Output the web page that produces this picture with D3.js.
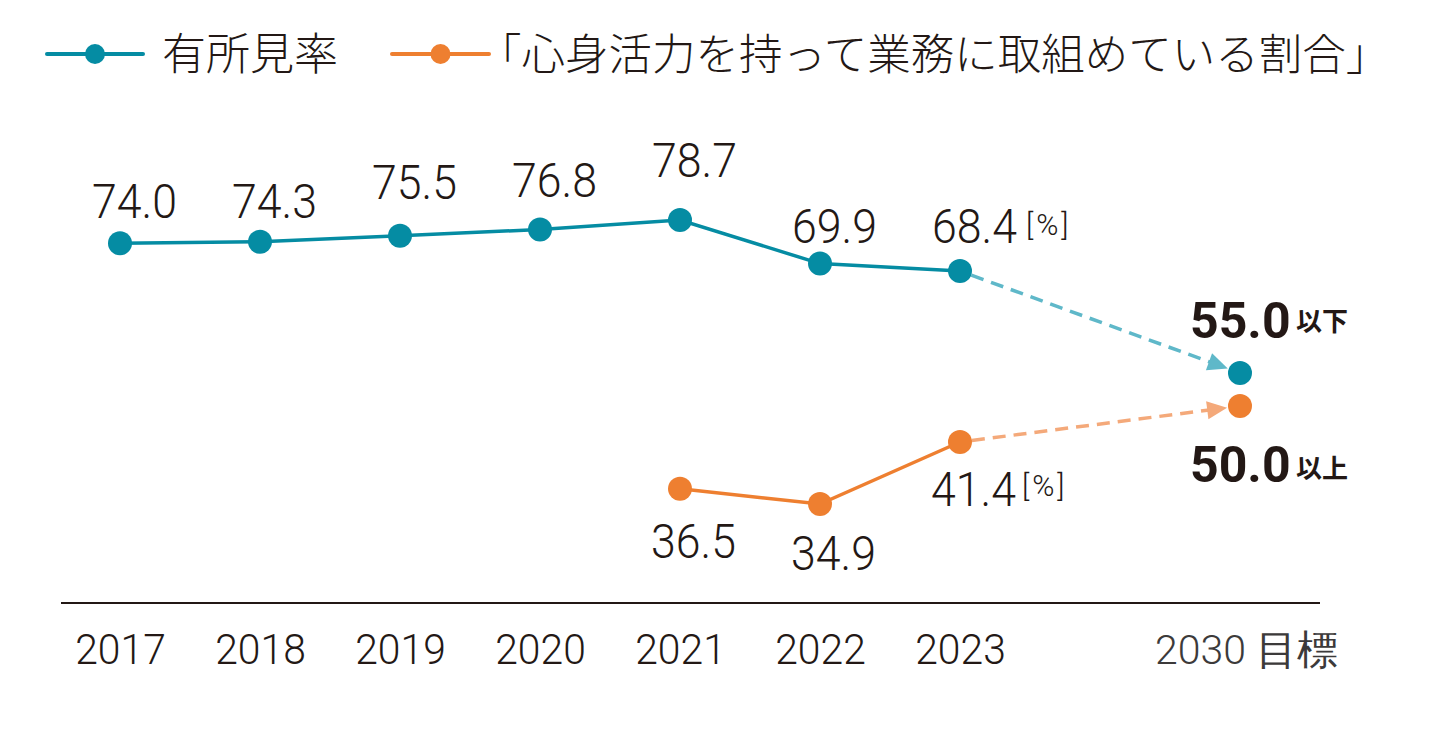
<!DOCTYPE html>
<html><head><meta charset="utf-8">
<script src="https://cdn.jsdelivr.net/npm/d3@7"></script>
<style>body{margin:0;background:#fff;} svg{display:block}</style>
</head><body><svg id="chart" width="1430" height="735"></svg>
<script>
// ---- data ----
const years = [2017, 2018, 2019, 2020, 2021, 2022, 2023];
const targetYear = 2030;
const yearLabels = ["2017", "2018", "2019", "2020", "2021", "2022", "2023", "2030 目標"];
const seriesNames = ["有所見率", "「心身活力を持って業務に取組めている割合」"];
const findingRate = [74.0, 74.3, 75.5, 76.8, 78.7, 69.9, 68.4];
const vitalityYears = [2021, 2022, 2023];
const vitalityRate = [36.5, 34.9, 41.4];
const findingTarget = 55.0;
const vitalityTarget = 50.0;
const targetSuffix = ["以下", "以上"];
const unitLabel = "[%]";

// ---- layout (label nudges, not data) ----
const blueLabelDy = [-25, -24, -37, -32, -43, -21, -28];
const orangeLabelDy = [69, 66, 64];

const TEAL = "#058ca3", TEAL_L = "#5fb8c9", ORANGE = "#ee7f30", ORANGE_L = "#f4a97a", INK = "#231815";
const NUM = "Roboto, 'Noto Sans', sans-serif";
const CJK = "'Noto Sans CJK JP', 'Noto Sans', sans-serif";

const svg = d3.select("#chart");

// x: slots of 140px, 2030 two slots after 2023
const x = d3.scaleLinear().domain([2017, 2023, 2030]).range([120, 960, 1240]);
// y: illustrative (not to scale) piecewise scales per series
const yBlue = d3.scaleLinear().domain([55, 68.4, 78.7]).range([373, 271, 220]);
const yOrange = d3.scaleLinear().domain([34.9, 41.4, 50]).range([504, 442, 406]);

function txt(s, px, py, size, o = {}) {
  return svg.append("text")
    .attr("transform", `translate(${px},${py}) scale(${o.sx || 1},1)`)
    .attr("font-family", o.font || NUM)
    .attr("font-size", size)
    .attr("font-weight", o.weight || 300)
    .attr("fill", o.fill || INK)
    .attr("text-anchor", o.anchor || "start")
    .text(s);
}

// ---- legend ----
const legendItems = [{c: TEAL, x0: 47, x1: 143, tx: 162, fs: 44}, {c: ORANGE, x0: 392, x1: 489, tx: 478, fs: 43.5}];
legendItems.forEach((l, i) => {
  svg.append("line").attr("x1", l.x0).attr("x2", l.x1).attr("y1", 54).attr("y2", 54)
    .attr("stroke", l.c).attr("stroke-width", 4).attr("stroke-linecap", "round");
  svg.append("circle").attr("cx", (l.x0 + l.x1) / 2).attr("cy", 54).attr("r", 10).attr("fill", l.c);
  txt(seriesNames[i], l.tx, 70, l.fs, {font: CJK, weight: 300});
});

// ---- axis ----
svg.append("line").attr("x1", 61).attr("x2", 1320).attr("y1", 603).attr("y2", 603)
  .attr("stroke", INK).attr("stroke-width", 2);
const axis = d3.axisBottom(x).tickValues([...years, targetYear]).tickSize(0)
  .tickFormat((d, i) => yearLabels[i]);
const ag = svg.append("g").attr("transform", "translate(0,603)").call(axis);
ag.select(".domain").remove();
ag.selectAll("text")
  .attr("y", 61).attr("dy", null)
  .attr("font-family", NUM).attr("font-weight", 300)
  .attr("font-size", (d) => d === targetYear ? 41 : 43)
  .attr("fill", (d) => d === targetYear ? "#3c3a3a" : INK)
  .attr("x", (d) => d === targetYear ? 6 : 0)
  .attr("transform", (d) => d === targetYear ? "scale(1,1)" : "scale(0.95,1)");

// ---- dashed projections with arrowheads ----
function projection(x0, y0, x1, y1, color) {
  const dx = x1 - x0, dy = y1 - y0, L = Math.hypot(dx, dy);
  const ux = dx / L, uy = dy / L;
  const r = 13, aLen = 20, aHalf = 9;
  const tipX = x1 - ux * r, tipY = y1 - uy * r;
  const bX = tipX - ux * aLen, bY = tipY - uy * aLen;
  svg.append("line").attr("x1", x0 + ux * 12).attr("y1", y0 + uy * 12).attr("x2", bX + ux * 2).attr("y2", bY + uy * 2)
    .attr("stroke", color).attr("stroke-width", 3.5).attr("stroke-dasharray", "13 8");
  svg.append("path")
    .attr("d", `M${tipX},${tipY}L${bX - uy * aHalf},${bY + ux * aHalf}L${bX + uy * aHalf},${bY - ux * aHalf}Z`)
    .attr("fill", color);
}
projection(x(2023), yBlue(findingRate[6]), x(targetYear), yBlue(findingTarget), TEAL_L);
projection(x(2023), yOrange(vitalityRate[2]), x(targetYear), yOrange(vitalityTarget), ORANGE_L);

// ---- series lines ----
const blueData = years.map((yr, i) => ({yr, v: findingRate[i]}));
const orangeData = vitalityYears.map((yr, i) => ({yr, v: vitalityRate[i]}));
svg.append("path").datum(blueData)
  .attr("d", d3.line().x(d => x(d.yr)).y(d => yBlue(d.v)))
  .attr("fill", "none").attr("stroke", TEAL).attr("stroke-width", 3.5);
svg.append("path").datum(orangeData)
  .attr("d", d3.line().x(d => x(d.yr)).y(d => yOrange(d.v)))
  .attr("fill", "none").attr("stroke", ORANGE).attr("stroke-width", 3.5);

svg.selectAll(".pb").data(blueData).join("circle")
  .attr("cx", d => x(d.yr)).attr("cy", d => yBlue(d.v)).attr("r", 12).attr("fill", TEAL);
svg.selectAll(".po").data(orangeData).join("circle")
  .attr("cx", d => x(d.yr)).attr("cy", d => yOrange(d.v)).attr("r", 12).attr("fill", ORANGE);
svg.append("circle").attr("cx", x(targetYear)).attr("cy", yBlue(findingTarget)).attr("r", 12).attr("fill", TEAL);
svg.append("circle").attr("cx", x(targetYear)).attr("cy", yOrange(vitalityTarget)).attr("r", 12).attr("fill", ORANGE);

// ---- value labels ----
blueData.forEach((d, i) => {
  txt(d.v.toFixed(1), x(d.yr) - 28, yBlue(d.v) + blueLabelDy[i], 48, {sx: 0.93});
});
orangeData.forEach((d, i) => {
  txt(d.v.toFixed(1), x(d.yr) - 29, yOrange(d.v) + orangeLabelDy[i], 48, {sx: 0.93});
});
// unit markers
txt(unitLabel, x(2023) + 66, yBlue(findingRate[6]) - 36, 30, {weight: 300}).attr("letter-spacing", 3);
txt(unitLabel, x(2023) + 62, yOrange(vitalityRate[2]) + 54, 30, {weight: 300}).attr("letter-spacing", 3);

// targets
txt(findingTarget.toFixed(1), x(targetYear) - 50, yBlue(findingTarget) - 35, 50, {weight: 700});
txt(targetSuffix[0], x(targetYear) + 56, yBlue(findingTarget) - 42, 26, {font: CJK, weight: 700});
txt(vitalityTarget.toFixed(1), x(targetYear) - 50, yOrange(vitalityTarget) + 76, 50, {weight: 700});
txt(targetSuffix[1], x(targetYear) + 56, yOrange(vitalityTarget) + 72, 26, {font: CJK, weight: 700});
</script>
</body></html>
